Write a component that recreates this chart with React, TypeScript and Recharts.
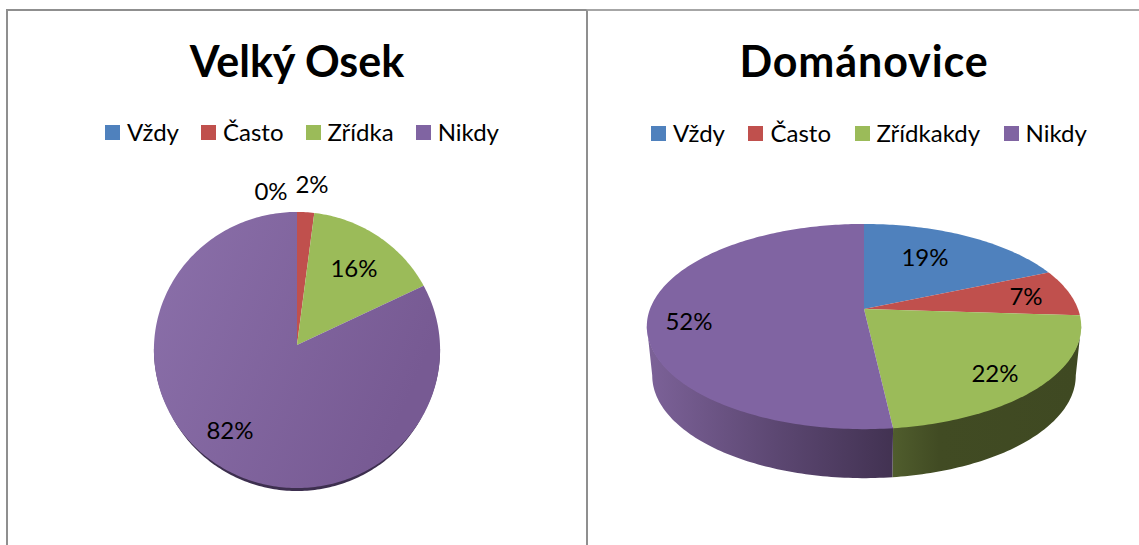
import React from 'react';
import { PieChart, Pie, Legend } from 'recharts';

const osekNames = ['Vždy', 'Často', 'Zřídka', 'Nikdy'];
const osekValues = [0, 2, 15.8, 82.2];
const domanoviceNames = ['Vždy', 'Často', 'Zřídkakdy', 'Nikdy'];
const domanoviceValues = [18.6, 7.4, 22.2, 51.8];

const COLORS = ['#4f81bd', '#c0504d', '#9bbb59', '#8064a2'];
const FONT = 'Lato, "Open Sans", sans-serif';
const NO_MARGIN = { top: 0, right: 0, bottom: 0, left: 0 };

// label centres, relative to the pie apex
const osekLabelOffsets = [[-26, -153], [15, -160], [57, -76], [-67, 86]];
const domanoviceLabelOffsets = [[61, -51], [162, -12], [131, 65], [-175, 13]];

interface Tilt {
  k: number; // perspective strength
  squash: number; // vertical scale of the disc
  depth: number; // height of the side wall
  wallScale: number; // the base is a little narrower than the top
}

const osekTilt: Tilt = { k: 0.036, squash: 0.964, depth: 3, wallScale: 0.985 };
const domanoviceTilt: Tilt = { k: 0.171, squash: 0.4654, depth: 49, wallScale: 0.975 };

function rim(r: number, tilt: Tilt, theta: number) {
  const t = (theta * Math.PI) / 180;
  const u = Math.sin(t);
  const v = -Math.cos(t);
  const w = 1 - tilt.k * v;
  return { x: (r * u) / w, y: (r * tilt.squash * v) / w };
}

function tiltedSector(tilt: Tilt, fills: string[], wallFills: string[]) {
  // the wall only shows between the two widest points of the disc
  const tangent = (Math.acos(-tilt.k) * 180) / Math.PI;

  return (props: any) => {
    const { cx, cy, outerRadius, startAngle, endAngle, index, fill } = props;
    const from = 90 - startAngle;
    const to = 90 - endAngle;
    if (to - from < 0.01) return <g />;

    const steps = Math.max(2, Math.ceil(to - from));
    const top = [`M${cx},${cy}`];
    for (let i = 0; i <= steps; i++) {
      const p = rim(outerRadius, tilt, from + ((to - from) * i) / steps);
      top.push(`L${cx + p.x},${cy + p.y}`);
    }
    top.push('Z');

    const wallFrom = Math.max(from, tangent);
    const wallTo = Math.min(to, 360 - tangent);
    let wall = '';
    if (wallTo > wallFrom) {
      const n = Math.ceil(wallTo - wallFrom);
      const upper: string[] = [];
      const lower: string[] = [];
      for (let i = 0; i <= n; i++) {
        const p = rim(outerRadius, tilt, wallFrom + ((wallTo - wallFrom) * i) / n);
        upper.push(`${cx + p.x},${cy + p.y - 1}`);
        lower.push(`${cx + p.x * tilt.wallScale},${cy + p.y + tilt.depth}`);
      }
      wall = `M${upper.join('L')}L${lower.reverse().join('L')}Z`;
    }

    return (
      <g>
        {wall && <path d={wall} fill={wallFills[index]} stroke="none" />}
        <path d={top.join('')} fill={fills[index] || fill} stroke="none" />
      </g>
    );
  };
}

function percentLabel(offsets: number[][]) {
  return (props: any) => {
    const { cx, cy, index, value } = props;
    return (
      <text
        x={cx + offsets[index][0]}
        y={cy + offsets[index][1] - 2}
        textAnchor="middle"
        dominantBaseline="central"
        fontFamily={FONT}
        fontSize={24}
        fill="#000"
      >
        {Math.round(value)}%
      </text>
    );
  };
}

function LegendRow({ payload, gap }: any) {
  return (
    <div style={{ display: 'flex', alignItems: 'center', gap, fontFamily: FONT, fontSize: 24, color: '#000', lineHeight: '30px', whiteSpace: 'nowrap' }}>
      {(payload || []).map((item: any) => (
        <span key={item.value} style={{ display: 'flex', alignItems: 'center', gap: 7 }}>
          <span style={{ display: 'inline-block', width: 15, height: 15, background: item.color }} />
          {item.value}
        </span>
      ))}
    </div>
  );
}

function toRows(names: string[], values: number[]) {
  return names.map((name, i) => ({ name, value: values[i], fill: COLORS[i] }));
}

export default function App() {
  const frame = '2px solid #8f8f8f';
  return (
    <div style={{ position: 'absolute', left: 0, top: 0, width: 1139, height: 545, overflow: 'hidden', background: '#fff' }}>
      <div style={{ position: 'absolute', left: 6, top: 9, width: 581, height: 536, borderLeft: frame, borderTop: frame, boxSizing: 'border-box' }} />
      <div style={{ position: 'absolute', left: 586, top: 9, width: 553, height: 536, borderLeft: frame, borderTop: '2px solid #a6a6a6', boxSizing: 'border-box' }} />

      <div style={{ position: 'absolute', left: 0, top: 0 }}>
        <PieChart width={586} height={545} margin={NO_MARGIN}>
          <defs>
            <linearGradient id="osekPurple" x1="0" y1="0" x2="1" y2="0.4">
              <stop offset="0%" stopColor="#8b70aa" />
              <stop offset="100%" stopColor="#775a93" />
            </linearGradient>
          </defs>
          <text x={297} y={77} textAnchor="middle" fontFamily={FONT} fontWeight={700} fontSize={43} fill="#000">
            Velký Osek
          </text>
          <Legend
            content={<LegendRow gap={22} />}
            itemSorter={null}
            wrapperStyle={{ position: 'absolute', left: 105, top: 117, width: 'auto' }}
          />
          <Pie
            data={toRows(osekNames, osekValues)}
            dataKey="value"
            nameKey="name"
            cx={297}
            cy={345}
            outerRadius={143}
            startAngle={90}
            endAngle={-270}
            stroke="none"
            labelLine={false}
            label={percentLabel(osekLabelOffsets)}
            shape={tiltedSector(osekTilt, [COLORS[0], COLORS[1], COLORS[2], 'url(#osekPurple)'], ['#3d2f4f', '#3d2f4f', '#3d2f4f', '#3d2f4f'])}
            isAnimationActive={false}
          />
        </PieChart>
      </div>

      <div style={{ position: 'absolute', left: 587, top: 0 }}>
        <PieChart width={552} height={545} margin={NO_MARGIN}>
          <defs>
            <linearGradient id="wallPurple" gradientUnits="userSpaceOnUse" x1={65} y1={0} x2={306} y2={0}>
              <stop offset="0%" stopColor="#7b6197" />
              <stop offset="50%" stopColor="#5d4873" />
              <stop offset="100%" stopColor="#423252" />
            </linearGradient>
            <linearGradient id="wallGreen" gradientUnits="userSpaceOnUse" x1={306} y1={0} x2={490} y2={0}>
              <stop offset="0%" stopColor="#505d2d" />
              <stop offset="25%" stopColor="#414b23" />
              <stop offset="100%" stopColor="#3f4922" />
            </linearGradient>
          </defs>
          <text x={277} y={77} textAnchor="middle" fontFamily={FONT} fontWeight={700} fontSize={43} letterSpacing={0.9} fill="#000">
            Dománovice
          </text>
          <Legend
            content={<LegendRow gap={23.5} />}
            itemSorter={null}
            wrapperStyle={{ position: 'absolute', left: 64, top: 118, width: 'auto' }}
          />
          <Pie
            data={toRows(domanoviceNames, domanoviceValues)}
            dataKey="value"
            nameKey="name"
            cx={277}
            cy={309}
            outerRadius={214}
            startAngle={90}
            endAngle={-270}
            stroke="none"
            labelLine={false}
            label={percentLabel(domanoviceLabelOffsets)}
            shape={tiltedSector(domanoviceTilt, COLORS, ['#3f4922', '#3f4922', 'url(#wallGreen)', 'url(#wallPurple)'])}
            isAnimationActive={false}
          />
        </PieChart>
      </div>
    </div>
  );
}
